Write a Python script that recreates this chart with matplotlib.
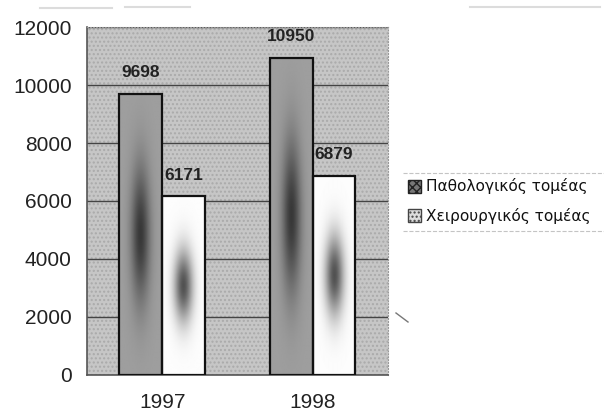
import numpy as np
import matplotlib

matplotlib.use("Agg")
import matplotlib.pyplot as plt
from matplotlib.lines import Line2D
from matplotlib.patches import Patch

years = ["1997", "1998"]
pathologikos = [9698, 10950]
cheirourgikos = [6171, 6879]
series_names = ["Παθολογικός τομέας", "Χειρουργικός τομέας"]

plt.rcParams["font.family"] = ["Liberation Sans", "DejaVu Sans"]

fig = plt.figure(figsize=(6.04, 4.17), dpi=100)
ax = fig.add_axes([0.144, 0.101, 0.498, 0.834])
ax.set_facecolor("#c6c6c6")
ax.patch.set_hatch("....")
ax.patch.set_edgecolor("#aaaaaa")

x = np.arange(len(years))
width = 0.285


def shaded_bar(ax, xc, h, base, dark, vcenter, vspread):
    # dark vertical blob in the middle of a bar
    nx, ny = 40, 200
    xs = np.linspace(-1, 1, nx)
    ys = np.linspace(0, 1, ny)
    X, Y = np.meshgrid(xs, ys)
    blob = np.exp(-(X / 0.45) ** 2) * np.exp(-((Y - vcenter) / vspread) ** 2)
    img = base + (dark - base) * blob
    ax.imshow(img, cmap="gray", vmin=0, vmax=1, origin="lower", aspect="auto",
              extent=(xc - width / 2, xc + width / 2, 0, h), zorder=2,
              interpolation="bilinear")


bars1 = ax.bar(x - width / 2, pathologikos, width, facecolor="none",
               edgecolor="#111111", linewidth=1.6, zorder=3)
bars2 = ax.bar(x + width / 2, cheirourgikos, width, facecolor="none",
               edgecolor="#111111", linewidth=1.6, zorder=3)

for xi, h in zip(x - width / 2, pathologikos):
    shaded_bar(ax, xi, h, 0.62, 0.22, 0.5, 0.24)
for xi, h in zip(x + width / 2, cheirourgikos):
    shaded_bar(ax, xi, h, 0.99, 0.32, 0.5, 0.2)

for rect, v in zip(list(bars1) + list(bars2), pathologikos + cheirourgikos):
    ax.text(rect.get_x() + rect.get_width() / 2, v + 720, str(v),
            ha="center", va="center", fontsize=12.5, fontweight="bold",
            color="#222222", zorder=4)

ax.set_xlim(-0.5, 1.5)
ax.set_ylim(0, 12000)
ax.set_yticks(range(0, 12001, 2000))
ax.set_xticks(x)
ax.set_xticklabels(years)
ax.tick_params(axis="both", labelsize=15, colors="#222222", length=0)
ax.tick_params(axis="y", pad=11)
ax.tick_params(axis="x", pad=13)
ax.yaxis.grid(True, color="#444444", linewidth=1.0, zorder=1)
ax.set_axisbelow(True)
for side in ["top", "right"]:
    ax.spines[side].set_color("#999999")
    ax.spines[side].set_linestyle(":")
for side in ["left", "bottom"]:
    ax.spines[side].set_color("#555555")
    ax.spines[side].set_linewidth(1.2)

handles = [
    Patch(facecolor="#777777", edgecolor="#222222", hatch="xxxx", label=series_names[0]),
    Patch(facecolor="#dddddd", edgecolor="#444444", hatch="....", label=series_names[1]),
]
leg = fig.legend(handles=handles, loc="center left", bbox_to_anchor=(0.662, 0.518),
                 frameon=False, prop={"family": "DejaVu Sans", "size": 11.1},
                 handlelength=0.9, handleheight=0.9, handletextpad=0.3,
                 borderpad=0.0, labelspacing=0.85)
for t in leg.get_texts():
    t.set_color("#111111")

# faint rules above and below the legend, as in the scan
for yy in (1 - 173 / 417, 1 - 231 / 417):
    fig.add_artist(Line2D([403 / 604, 1.0], [yy, yy], transform=fig.transFigure,
                          color="#c4c4c4", linewidth=0.8, linestyle="--"))

# scan marks near the top edge
for x0, x1, yy in ((40, 112, 8), (125, 190, 7), (470, 600, 7)):
    fig.add_artist(Line2D([x0 / 604, x1 / 604], [1 - yy / 417] * 2,
                          transform=fig.transFigure, color="#dcdcdc", linewidth=1.5))
fig.add_artist(Line2D([396 / 604, 408 / 604], [1 - 313 / 417, 1 - 322 / 417],
                      transform=fig.transFigure, color="#777777", linewidth=1.0))

fig.savefig("out.png", dpi=100)
